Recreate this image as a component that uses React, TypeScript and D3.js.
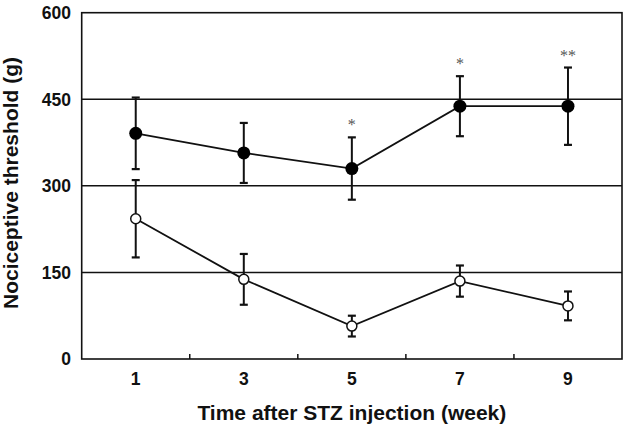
import React from "react";
import * as d3 from "d3";

const weeks = ["1", "3", "5", "7", "9"];
const filledMean = [391, 357, 330, 438, 438];
const filledErr = [62, 52, 54, 52, 67];
const openMean = [243, 138, 57, 135, 92];
const openErr = [67, 44, 18, 27, 25];
const stars = ["", "", "*", "*", "**"];
const yTicks = [0, 150, 300, 450, 600];

const W = 625, H = 425;
const M = { left: 81.7, right: 622, top: 12.7, bottom: 359 };

export default function App() {
  const x = d3.scaleBand<string>().domain(weeks).range([M.left, M.right]).padding(0);
  const y = d3.scaleLinear().domain([0, 600]).range([M.bottom, M.top]);
  const cx = (w: string) => (x(w) as number) + x.bandwidth() / 2;
  const line = d3.line<number>().x((_, i) => cx(weeks[i])).y((v) => y(v));
  const font = "'Liberation Sans', Arial, Helvetica, sans-serif";

  const errBars = (means: number[], errs: number[], key: string) =>
    means.map((m, i) => {
      const xc = cx(weeks[i]);
      const top = y(m + errs[i]);
      const bot = y(m - errs[i]);
      return (
        <g key={key + i} stroke="#111">
          <line x1={xc} x2={xc} y1={top} y2={bot} strokeWidth={2} />
          <line x1={xc - 4} x2={xc + 4} y1={top} y2={top} strokeWidth={2.2} />
          <line x1={xc - 4} x2={xc + 4} y1={bot} y2={bot} strokeWidth={2.2} />
        </g>
      );
    });

  return (
    <svg width={W} height={H} style={{ position: "absolute", left: 0, top: 0, background: "#fff" }}>
      {yTicks.slice(1, 4).map((t) => (
        <line key={"g" + t} x1={M.left} x2={M.right} y1={y(t)} y2={y(t)} stroke="#111" strokeWidth={1.5} />
      ))}
      <rect x={M.left} y={M.top} width={M.right - M.left} height={M.bottom - M.top} fill="none" stroke="#111" strokeWidth={1.6} />
      {weeks.slice(1).map((w) => (
        <line key={"t" + w} x1={x(w) as number} x2={x(w) as number} y1={M.bottom} y2={M.bottom - 5} stroke="#111" strokeWidth={1.5} />
      ))}
      {yTicks.map((t) => (
        <text key={"yl" + t} x={71} y={y(t)} dy="0.36em" textAnchor="end" fontFamily={font} fontWeight="bold" fontSize={17.5} fill="#111">
          {t}
        </text>
      ))}
      {weeks.map((w) => (
        <text key={"xl" + w} x={cx(w)} y={385} textAnchor="middle" fontFamily={font} fontWeight="bold" fontSize={17.5} fill="#111">
          {w}
        </text>
      ))}
      <text x={(M.left + M.right) / 2} y={420} textAnchor="middle" fontFamily={font} fontWeight="bold" fontSize={21} fill="#111">
        Time after STZ injection (week)
      </text>
      <text transform={`translate(17.5,${183}) rotate(-90)`} textAnchor="middle" fontFamily={font} fontWeight="bold" fontSize={21} fill="#111">
        Nociceptive threshold (g)
      </text>

      {errBars(filledMean, filledErr, "fe")}
      {errBars(openMean, openErr, "oe")}

      <path d={line(filledMean) || ""} fill="none" stroke="#111" strokeWidth={1.8} />
      <path d={line(openMean) || ""} fill="none" stroke="#111" strokeWidth={1.8} />

      {filledMean.map((m, i) => (
        <circle key={"fc" + i} cx={cx(weeks[i])} cy={y(m)} r={6.5} fill="#000" />
      ))}
      {openMean.map((m, i) => (
        <circle key={"oc" + i} cx={cx(weeks[i])} cy={y(m)} r={5} fill="#fff" stroke="#111" strokeWidth={1.5} />
      ))}

      {stars.map((s, i) =>
        s ? (
          <text key={"s" + i} x={cx(weeks[i])} y={y(filledMean[i] + filledErr[i]) - 14 + 7} textAnchor="middle" fontFamily="'Liberation Serif', 'Times New Roman', serif" fontSize={16} fill="#555">
            {s}
          </text>
        ) : null
      )}
    </svg>
  );
}
